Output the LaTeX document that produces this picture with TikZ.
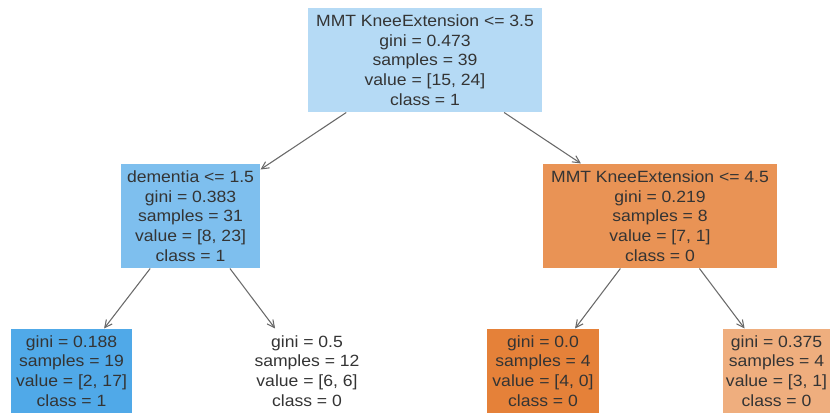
\documentclass[tikz,border=0pt]{standalone}
\usepackage{fontspec}
\setmainfont{Liberation Sans}[FakeStretch=1.08]
\usetikzlibrary{arrows.meta}
\tikzset{every picture/.style={line width=0.75pt}}
\definecolor{rootblue}{RGB}{181,218,245}
\definecolor{midblue}{RGB}{126,191,238}
\definecolor{deepblue}{RGB}{80,169,232}
\definecolor{midorange}{RGB}{233,147,85}
\definecolor{deeporange}{RGB}{229,129,57}
\definecolor{paleorange}{RGB}{239,174,126}
\definecolor{txtgray}{RGB}{52,52,52}
\definecolor{arrowgray}{RGB}{105,105,105}
\tikzset{
  treenode/.style={align=center, text=txtgray, inner sep=0pt, font=\fontsize{12.2}{14.8}\selectfont},
  splitnode/.style={treenode, minimum height=78pt},
  leafnode/.style={treenode, minimum height=63pt},
  treearrow/.style={draw=arrowgray, line width=0.8pt, -{Straight Barb[length=5.5pt,width=5.5pt]}}
}

\begin{document}
\begin{tikzpicture}[x=0.75pt,y=0.75pt,yscale=-1,xscale=1]
\path[use as bounding box] (0,0) rectangle (835,416);

% Split Node
\node [splitnode, fill=rootblue, minimum width=175.5pt] (root) at (425,60) {MMT KneeExtension <= 3.5\\gini = 0.473\\samples = 39\\value = [15, 24]\\class = 1};
% Split Node
\node [splitnode, fill=midblue, minimum width=104.25pt] (dementia) at (190.5,216) {dementia <= 1.5\\gini = 0.383\\samples = 31\\value = [8, 23]\\class = 1};
% Split Node
\node [splitnode, fill=midorange, minimum width=175.5pt] (knee) at (660,216) {MMT KneeExtension <= 4.5\\gini = 0.219\\samples = 8\\value = [7, 1]\\class = 0};

% Leaf Node
\node [leafnode, fill=deepblue, minimum width=90.75pt] (leafa) at (71.5,371) {gini = 0.188\\samples = 19\\value = [2, 17]\\class = 1};
% Leaf Node
\node [leafnode, minimum width=90pt] (leafb) at (307,371) {gini = 0.5\\samples = 12\\value = [6, 6]\\class = 0};
% Leaf Node
\node [leafnode, fill=deeporange, minimum width=84pt] (leafc) at (543,371) {gini = 0.0\\samples = 4\\value = [4, 0]\\class = 0};
% Leaf Node
\node [leafnode, fill=paleorange, minimum width=80.25pt] (leafd) at (776.5,371) {gini = 0.375\\samples = 4\\value = [3, 1]\\class = 0};

%Straight Lines
\draw [treearrow] (root) -- (dementia);
\draw [treearrow] (root) -- (knee);
\draw [treearrow] (dementia) -- (leafa);
\draw [treearrow] (dementia) -- (leafb);
\draw [treearrow] (knee) -- (leafc);
\draw [treearrow] (knee) -- (leafd);

\end{tikzpicture}
\end{document}
